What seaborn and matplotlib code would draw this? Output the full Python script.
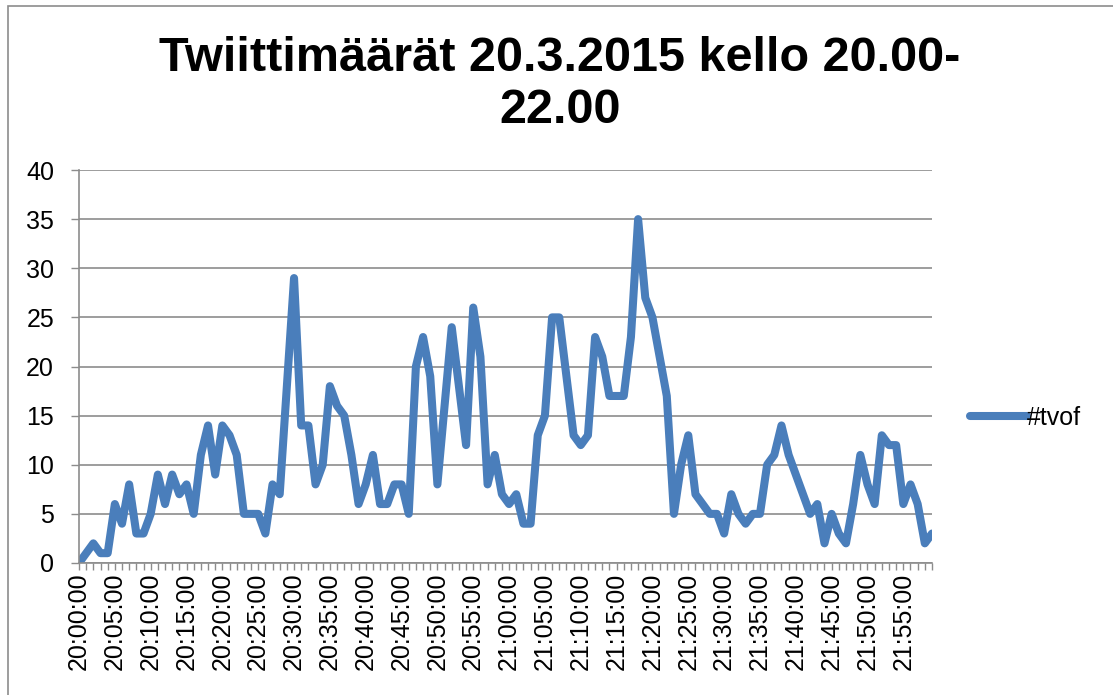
import pandas as pd
import matplotlib.pyplot as plt
import matplotlib.patches as patches
import seaborn as sns

# tweets per minute, 20:00 - 21:59
counts = [
    0, 1, 2, 1, 1, 6, 4, 8, 3, 3,
    5, 9, 6, 9, 7, 8, 5, 11, 14, 9,
    14, 13, 11, 5, 5, 5, 3, 8, 7, 18,
    29, 14, 14, 8, 10, 18, 16, 15, 11, 6,
    8, 11, 6, 6, 8, 8, 5, 20, 23, 19,
    8, 16, 24, 18, 12, 26, 21, 8, 11, 7,
    6, 7, 4, 4, 13, 15, 25, 25, 19, 13,
    12, 13, 23, 21, 17, 17, 17, 23, 35, 27,
    25, 21, 17, 5, 10, 13, 7, 6, 5, 5,
    3, 7, 5, 4, 5, 5, 10, 11, 14, 11,
    9, 7, 5, 6, 2, 5, 3, 2, 6, 11,
    8, 6, 13, 12, 12, 6, 8, 6, 2, 3,
]
times = pd.date_range('2015-03-20 20:00', periods=len(counts), freq='min').strftime('%H:%M:%S')
series_name = '#tvof'
title = 'Twiittimäärät 20.3.2015 kello 20.00-\n22.00'

df = pd.DataFrame({'minute': range(len(counts)), 'count': counts})

sns.set_style('white')
plt.rcParams['font.family'] = ['Liberation Sans', 'DejaVu Sans']
plt.rcParams['text.color'] = 'black'
plt.rcParams['xtick.color'] = 'black'
plt.rcParams['ytick.color'] = 'black'

fig = plt.figure(figsize=(11.13, 6.95), dpi=100)
ax = fig.add_axes([79 / 1113, 1 - 563 / 695, (932 - 79) / 1113, (563 - 170) / 695])

sns.lineplot(data=df, x='minute', y='count', ax=ax, color='#4a7ebb', linewidth=5.8,
             label=series_name, solid_capstyle='round', solid_joinstyle='round')

grid_col = '#8c8c8c'
ax.set_xlim(0, len(counts) - 1)
ax.set_ylim(0, 40)
ax.set_yticks(range(0, 41, 5))
ax.yaxis.grid(True, color=grid_col, linewidth=1.2)
ax.set_axisbelow(True)
ax.set_xticks(range(0, len(counts), 5))
ax.set_xticklabels(times[::5], rotation=90, va='top', ha='center')
ax.set_xticks(range(len(counts)), minor=True)
ax.tick_params(axis='y', left=True, length=6, width=1, color=grid_col, labelcolor='black', pad=12, labelsize=18)
ax.tick_params(axis='x', which='both', bottom=True, length=5, width=1, color=grid_col, labelcolor='black', pad=2, labelsize=18)
ax.set_xlabel('')
ax.set_ylabel('')
for side in ['top', 'right']:
    ax.spines[side].set_visible(False)
for side in ['left', 'bottom']:
    ax.spines[side].set_color(grid_col)
    ax.spines[side].set_linewidth(1.2)

leg = ax.legend(loc='center left', bbox_to_anchor=(957 / 1113, 1 - 418 / 695),
                bbox_transform=fig.transFigure, frameon=False, fontsize=18,
                handlelength=2.3, handletextpad=0.0, borderpad=0)
for t in leg.get_texts():
    t.set_color('black')

fig.text(0.503, 1 - 36 / 695, title, ha='center', va='top', fontsize=35,
         fontweight='bold', linespacing=1.2, color='black')

fig.patches.append(patches.Rectangle((8 / 1113, -0.1), 2, (695 - 6) / 695 + 0.1,
                                     transform=fig.transFigure, fill=False,
                                     edgecolor='#8c8c8c', linewidth=1.2))

fig.savefig('out.png', dpi=100)
